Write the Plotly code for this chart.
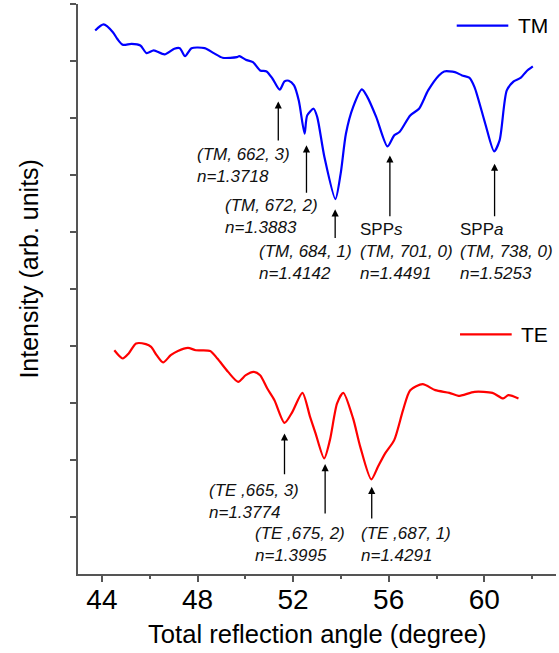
import plotly.graph_objects as go

# ---- data ----
tm_angle = [43.72, 44.07, 44.46, 44.64, 44.87, 45.24, 45.61, 45.87, 46.17, 46.62,
            47.03, 47.26, 47.48, 47.75, 48.30, 48.68, 49.05, 49.65, 49.75, 50.02,
            50.32, 50.62, 50.89, 51.14, 51.44, 51.64, 51.82, 52.04, 52.24, 52.48,
            52.59, 52.86, 53.01, 53.31, 53.77, 53.99, 54.21, 54.51, 54.88, 55.11,
            55.48, 55.95, 56.23, 56.45, 56.90, 57.27, 57.65, 58.10, 58.32, 58.77,
            59.07, 59.37, 59.59, 60.04, 60.41, 60.64, 60.94, 61.23, 61.53, 61.76,
            62.03]
tm_intensity = [9.535, 9.641, 9.506, 9.390, 9.285, 9.302, 9.273, 9.138, 9.185, 9.115,
                9.215, 9.225, 9.085, 9.225, 9.225, 9.138, 9.057, 9.068, 9.085, 9.022,
                8.980, 8.834, 8.817, 8.689, 8.496, 8.642, 8.654, 8.571, 8.301, 7.725,
                8.046, 8.163, 8.016, 7.315, 6.578, 7.024, 7.725, 8.191, 8.501, 8.366,
                8.016, 7.502, 7.695, 7.753, 8.046, 8.163, 8.484, 8.747, 8.817, 8.805,
                8.747, 8.707, 8.542, 7.900, 7.415, 7.607, 8.484, 8.642, 8.707, 8.817,
                8.904]

te_angle = [44.52, 44.87, 45.12, 45.43, 45.84, 46.06, 46.29, 46.56, 46.88, 47.18,
            47.60, 47.93, 48.53, 48.83, 49.28, 49.70, 50.02, 50.35, 50.62, 50.92,
            51.22, 51.64, 51.97, 52.39, 52.71, 52.94, 53.30, 53.54, 53.84, 54.10,
            54.51, 54.81, 55.27, 55.55, 55.85, 56.23, 56.60, 56.90, 57.42, 57.95,
            58.54, 58.92, 59.59, 60.34, 60.79, 61.01, 61.43]
te_intensity = [3.926, 3.781, 3.869, 4.044, 4.032, 3.984, 3.839, 3.711, 3.839, 3.914,
                3.967, 3.926, 3.914, 3.781, 3.546, 3.371, 3.488, 3.546, 3.488, 3.255,
                3.050, 2.652, 2.845, 3.178, 2.757, 2.466, 2.028, 2.349, 2.992, 3.178,
                2.729, 2.231, 1.660, 1.881, 2.116, 2.349, 2.875, 3.225, 3.330, 3.225,
                3.178, 3.125, 3.196, 3.178, 3.080, 3.138, 3.080]

x_ticks = [44, 48, 52, 56, 60]

# mode labels: arrow x, arrow tip y, arrow tail y, label x, label y, label text
tm_modes_x = [51.38, 52.56, 53.76, 56.05, 60.43]
tm_tip_y = [8.291, 7.520, 6.398, 7.344, 7.199]
tm_tail_y = [7.578, 6.661, 5.867, 6.252, 6.252]
tm_label_x = [47.88, 49.08, 50.48, 54.70, 58.92]
tm_label_y = [7.175, 6.278, 5.466, 5.665, 5.665]
tm_labels = ["<i>(TM, 662, 3)<br>n=1.3718</i>",
             "<i>(TM, 672, 2)<br>n=1.3883</i>",
             "<i>(TM, 684, 1)<br>n=1.4142</i>",
             "SPP<i>s</i><br><i>(TM, 701, 0)<br>n=1.4491</i>",
             "SPP<i>a</i><br><i>(TM, 738, 0)<br>n=1.5253</i>"]

te_modes_x = [51.64, 53.34, 55.29]
te_tip_y = [2.466, 1.928, 1.530]
te_tail_y = [1.723, 1.034, 0.947]
te_label_x = [48.38, 50.32, 54.76]
te_label_y = [1.271, 0.514, 0.514]
te_labels = ["<i>(TE ,665, 3)<br>n=1.3774</i>",
             "<i>(TE ,675, 2)<br>n=1.3995</i>",
             "<i>(TE ,687, 1)<br>n=1.4291</i>"]

FONT = "Arial, Liberation Sans, sans-serif"
AXIS_COLOR = "#555555"

fig = go.Figure()
fig.add_trace(go.Scatter(x=tm_angle, y=tm_intensity, mode="lines", name="TM",
                         line=dict(color="#0000FF", width=2.2, shape="spline", smoothing=0.7),
                         showlegend=False))
fig.add_trace(go.Scatter(x=te_angle, y=te_intensity, mode="lines", name="TE",
                         line=dict(color="#FF0000", width=2.2, shape="spline", smoothing=0.7),
                         showlegend=False))

annotations = []
for mx, ty, ay in list(zip(tm_modes_x, tm_tip_y, tm_tail_y)) + list(zip(te_modes_x, te_tip_y, te_tail_y)):
    annotations.append(dict(x=mx, y=ty, ax=mx, ay=ay, xref="x", yref="y", axref="x", ayref="y",
                            text="", showarrow=True, arrowhead=2, arrowsize=1.1, arrowwidth=1.3,
                            arrowcolor="black", standoff=0, startstandoff=0))
for lx, ly, lt in list(zip(tm_label_x, tm_label_y, tm_labels)) + list(zip(te_label_x, te_label_y, te_labels)):
    annotations.append(dict(x=lx, y=ly, xref="x", yref="y", text=lt, showarrow=False,
                            xanchor="left", yanchor="middle", align="left",
                            font=dict(family=FONT, size=17, color="#111111")))

# legend entries drawn by hand (Origin-style separate legends)
shapes = [
    dict(type="line", xref="paper", yref="paper", x0=0.7923, x1=0.9002, y0=0.9619, y1=0.9619,
         line=dict(color="#0000FF", width=2.2)),
    dict(type="line", xref="paper", yref="paper", x0=0.7992, x1=0.9073, y0=0.4205, y1=0.4205,
         line=dict(color="#FF0000", width=2.2)),
]
annotations.append(dict(x=0.9163, y=0.9619, xref="paper", yref="paper", text="TM", showarrow=False,
                        xanchor="left", yanchor="middle", font=dict(family=FONT, size=21, color="black")))
annotations.append(dict(x=0.9226, y=0.4205, xref="paper", yref="paper", text="TE", showarrow=False,
                        xanchor="left", yanchor="middle", font=dict(family=FONT, size=21, color="black")))

# axis titles
annotations.append(dict(x=-0.1019, y=0.5363, xref="paper", yref="paper",
                        text="Intensity (arb. units)", textangle=-90, showarrow=False,
                        xanchor="center", yanchor="middle",
                        font=dict(family=FONT, size=25, color="black")))
annotations.append(dict(x=0.502, y=-0.105, xref="paper", yref="paper",
                        text="Total reflection angle (degree)", showarrow=False,
                        xanchor="center", yanchor="middle",
                        font=dict(family=FONT, size=25.6, color="black")))

fig.update_layout(
    width=559, height=653,
    margin=dict(l=78, r=3, t=4, b=79),
    paper_bgcolor="white", plot_bgcolor="white",
    font=dict(family=FONT, color="black"),
    annotations=annotations, shapes=shapes,
    showlegend=False,
)
fig.update_xaxes(range=[43, 63], tickvals=x_ticks, ticktext=[str(v) for v in x_ticks],
                 ticks="outside", ticklen=6, tickwidth=1.5, tickcolor=AXIS_COLOR,
                 ticklabelstandoff=-7,
                 minor=dict(dtick=2, tick0=44, ticks="outside", ticklen=3, tickwidth=1.5,
                            tickcolor=AXIS_COLOR, showgrid=False),
                 showline=True, linecolor=AXIS_COLOR, linewidth=1.8,
                 showgrid=False, zeroline=False,
                 tickfont=dict(family=FONT, size=28, color="black"))
fig.update_yaxes(range=[0, 10], tickvals=list(range(1, 11)), showticklabels=False,
                 ticks="outside", ticklen=6, tickwidth=1.5, tickcolor=AXIS_COLOR,
                 showline=True, linecolor=AXIS_COLOR, linewidth=1.8,
                 showgrid=False, zeroline=False)

fig.write_html("out.html")
